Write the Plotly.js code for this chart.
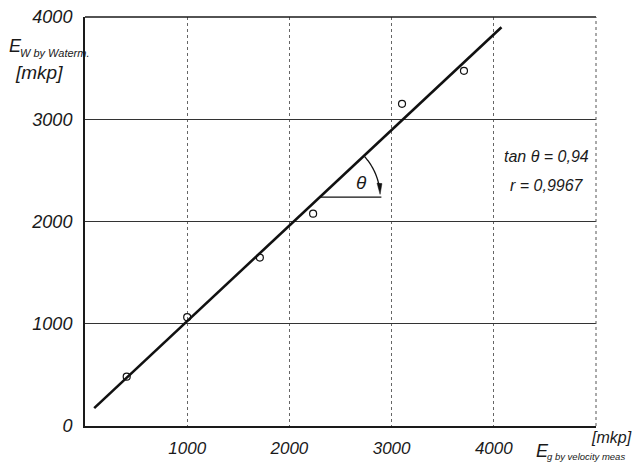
<!DOCTYPE html>
<html>
<head>
<meta charset="utf-8">
<script src="https://cdn.plot.ly/plotly-3.0.1.min.js"></script>
<style>body{margin:0;background:#fff}#chart{width:632px;height:464px}</style>
</head>
<body>
<div id="chart"></div>
<script>
// Measured points: E_g (by velocity measurement) vs E_W (by water measurement), mkp
const egVelocity = [408, 1000, 1711, 2232, 3102, 3708];
const ewWater    = [482, 1064, 1647, 2077, 3151, 3474];
// Regression line end points
const fitX = [90, 4075];
const fitY = [175, 3900];
// Tick values
const xTicks = [1000, 2000, 3000, 4000];
const yTicks = [0, 1000, 2000, 3000, 4000];
const tanTheta = '0,94';
const rValue = '0,9967';

const FONT = '"Liberation Sans", Arial, sans-serif';
const ink = '#1a1a1a';

// angle marker geometry (data units)
const cx = 2298, cy = fitY[0] + (fitY[1]-fitY[0])/(fitX[1]-fitX[0])*(2298-fitX[0]);
const rad = 590;
const a0 = Math.atan2(fitY[1]-fitY[0], fitX[1]-fitX[0]) - 0.02;
const a1 = 0.13;
let arcPath = '';
for (let i = 0; i <= 30; i++) {
  const a = a0 + (a1 - a0) * i / 30;
  arcPath += (i === 0 ? 'M' : 'L') + (cx + rad*Math.cos(a)).toFixed(1) + ',' + (cy + rad*Math.sin(a)).toFixed(1) + ' ';
}
const tipX = cx + rad*Math.cos(0.045), tipY = cy + rad*Math.sin(0.045);
const headPath = 'M' + tipX.toFixed(1) + ',' + tipY.toFixed(1) +
  ' L' + (tipX - 30).toFixed(1) + ',' + (tipY + 110).toFixed(1) +
  ' L' + (tipX + 18).toFixed(1) + ',' + (tipY + 105).toFixed(1) + ' Z';

const traces = [
  {x: fitX, y: fitY, mode: 'lines', line: {color: '#111', width: 2.6}, hoverinfo: 'skip'},
  {x: egVelocity, y: ewWater, mode: 'markers',
   marker: {symbol: 'circle-open', size: 7, color: '#111', line: {width: 1.2, color: '#111'}}}
];

const layout = {
  width: 632, height: 464,
  margin: {l: 85, r: 36, t: 17, b: 38},
  paper_bgcolor: '#fff', plot_bgcolor: '#fff',
  showlegend: false,
  font: {family: FONT, color: ink, style: 'italic'},
  xaxis: {
    range: [0, 5000], tickvals: xTicks, ticktext: xTicks.map(String),
    showgrid: true, gridcolor: '#666', griddash: 'dot', gridwidth: 1,
    zeroline: false, showline: true, linecolor: ink, linewidth: 2,
    ticks: '', ticklabelstandoff: 6,
    tickfont: {family: FONT, size: 17, color: ink, style: 'italic'}
  },
  yaxis: {
    range: [0, 4000], tickvals: yTicks, ticktext: yTicks.map(String),
    showgrid: true, gridcolor: '#333', gridwidth: 1.2,
    zeroline: false, showline: true, linecolor: ink, linewidth: 2,
    ticks: '', ticklabelstandoff: 7,
    tickfont: {family: FONT, size: 18, color: ink, style: 'italic'}
  },
  shapes: [
    {type: 'line', xref: 'paper', yref: 'paper', x0: 0, x1: 1, y0: 1, y1: 1, line: {color: ink, width: 1.5}},
    {type: 'line', xref: 'paper', yref: 'paper', x0: 1, x1: 1, y0: 0, y1: 1, line: {color: '#555', width: 1, dash: 'dot'}},
    {type: 'line', xref: 'x', yref: 'y', x0: cx, x1: 2900, y0: cy, y1: cy, line: {color: '#111', width: 1.3}},
    {type: 'path', xref: 'x', yref: 'y', path: arcPath, line: {color: '#111', width: 1.3}},
    {type: 'path', xref: 'x', yref: 'y', path: headPath, fillcolor: '#111', line: {color: '#111', width: 0.5}}
  ],
  annotations: [
    {xref: 'x', yref: 'y', x: 2705, y: 2378, text: 'θ', showarrow: false,
     font: {family: FONT, size: 19, color: ink, style: 'italic'}},
    {xref: 'x', yref: 'y', x: 4520, y: 2640, text: 'tan θ = ' + tanTheta, showarrow: false,
     font: {family: FONT, size: 16, color: ink, style: 'italic'}},
    {xref: 'x', yref: 'y', x: 4520, y: 2348, text: 'r = ' + rValue, showarrow: false,
     font: {family: FONT, size: 16, color: ink, style: 'italic'}},
    {xref: 'paper', yref: 'paper', x: -0.153, y: 0.93, xanchor: 'left', yanchor: 'middle', showarrow: false,
     text: 'E', font: {family: FONT, size: 18, color: ink, style: 'italic'}},
    {xref: 'paper', yref: 'paper', x: -0.131, y: 0.913, xanchor: 'left', yanchor: 'middle', showarrow: false,
     text: 'W by Waterm.', font: {family: FONT, size: 11, color: ink, style: 'italic'}},
    {xref: 'paper', yref: 'paper', x: -0.09, y: 0.864, xanchor: 'center', yanchor: 'middle', showarrow: false,
     text: '[mkp]', font: {family: FONT, size: 19, color: ink, style: 'italic'}},
    {xref: 'paper', yref: 'paper', x: 1.03, y: -0.027, xanchor: 'center', yanchor: 'middle', showarrow: false,
     text: '[mkp]', font: {family: FONT, size: 16, color: ink, style: 'italic'}},
    {xref: 'paper', yref: 'paper', x: 0.879, y: -0.06, xanchor: 'left', yanchor: 'middle', showarrow: false,
     text: 'E', font: {family: FONT, size: 18, color: ink, style: 'italic'}},
    {xref: 'paper', yref: 'paper', x: 0.9, y: -0.075, xanchor: 'left', yanchor: 'middle', showarrow: false,
     text: 'g by velocity meas', font: {family: FONT, size: 9.5, color: ink, style: 'italic'}}
  ]
};

Plotly.newPlot('chart', traces, layout, {displayModeBar: false, staticPlot: true});
</script>
</body>
</html>
